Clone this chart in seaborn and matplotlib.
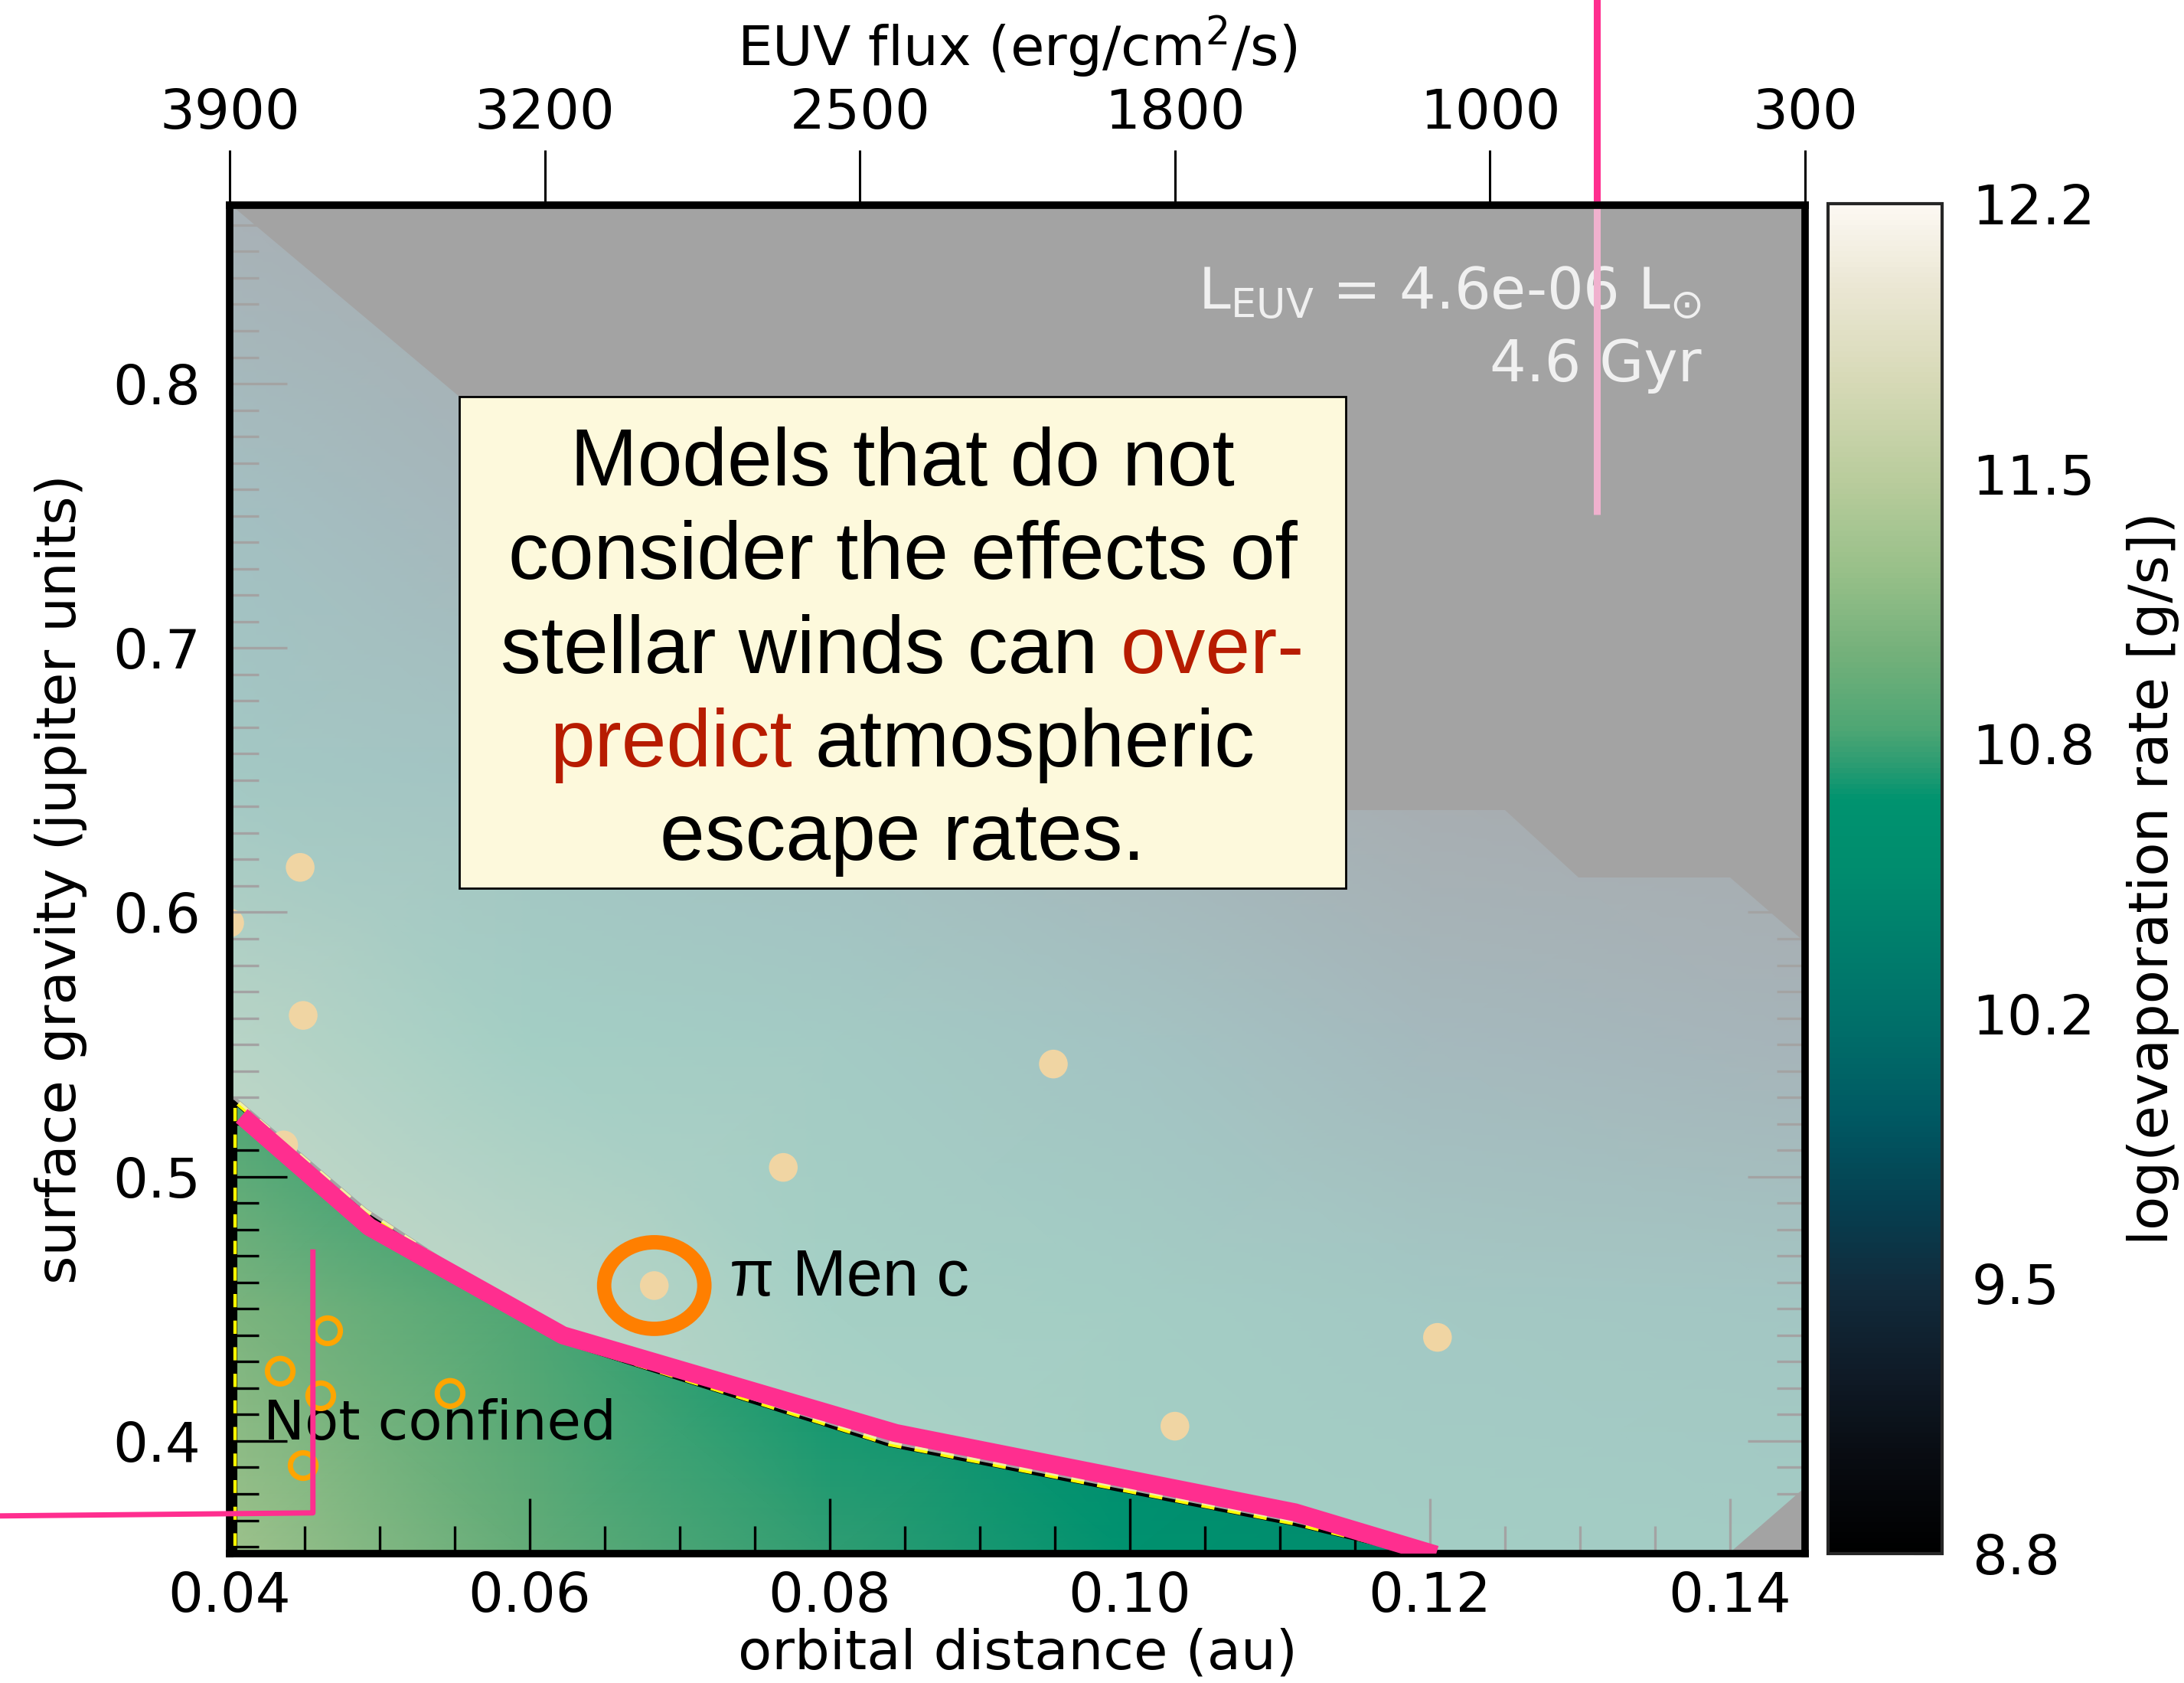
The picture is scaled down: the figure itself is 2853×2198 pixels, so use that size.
import numpy as np
import matplotlib
matplotlib.use("Agg")
import matplotlib.pyplot as plt
import seaborn as sns
from matplotlib.colors import LinearSegmentedColormap
from matplotlib.patches import Polygon, Rectangle, Ellipse
from matplotlib.ticker import MultipleLocator, FormatStrFormatter

# ---------------- data ----------------
# model grid: log10 evaporation rate [g/s]
grid_distance = [0.040, 0.060, 0.080, 0.100, 0.120, 0.145]
grid_gravity = [0.357, 0.450, 0.550, 0.650, 0.750, 0.868]
log_rate = [
    [11.32, 10.98, 10.80, 10.68, 10.55, 10.45],
    [11.12, 10.88, 10.70, 10.50, 10.30, 10.20],
    [10.85, 10.60, 10.40, 10.10, 9.75, 9.60],
    [10.30, 10.10, 9.90, 9.60, 9.30, 9.20],
    [9.95, 9.65, 9.45, 9.25, 9.10, 9.00],
    [9.50, 9.25, 9.05, 8.95, 8.90, 8.85],
]

# outline of the region covered by the model runs
domain_distance = [0.030, 0.1364, 0.1460, 0.1460, 0.1400, 0.1299, 0.1250,
                   0.1144, 0.0553, 0.0375, 0.030]
domain_gravity = [0.340, 0.340, 0.3874, 0.5836, 0.6132, 0.6132, 0.6388,
                  0.6388, 0.7950, 0.880, 0.880]

# wind-confinement boundary (below: not confined)
boundary_distance = [0.0403, 0.0403, 0.0490, 0.0622, 0.0840, 0.1110, 0.1195]
boundary_gravity = [0.350, 0.529, 0.487, 0.438, 0.399, 0.369, 0.3574]

# hand-traced highlight of the boundary
highlight_distance = [0.0408, 0.0493, 0.0622, 0.0844, 0.1110, 0.1204]
highlight_gravity = [0.523, 0.481, 0.440, 0.403, 0.373, 0.357]

# pointer strokes
pointer_top_distance = [0.1311, 0.1311]
pointer_top_gravity = [0.9455, 0.7504]
pointer_low_distance = [0.0200, 0.04555, 0.04555]
pointer_low_gravity = [0.3714, 0.3728, 0.4725]

# planets
confined_distance = [0.0400, 0.0447, 0.0449, 0.0436, 0.0683, 0.0769, 0.0949, 0.1030, 0.1205]
confined_gravity = [0.596, 0.617, 0.561, 0.512, 0.4588, 0.5035, 0.5426, 0.4056, 0.4392]
unconfined_distance = [0.04653, 0.04337, 0.04607, 0.05469, 0.04490]
unconfined_gravity = [0.4417, 0.4264, 0.4171, 0.4180, 0.3907]
pimen_distance, pimen_gravity = 0.0683, 0.4588

# top axis (EUV flux at the tick positions)
euv_flux_labels = ["3900", "3200", "2500", "1800", "1000", "300"]

# colour scale
cbar_min, cbar_max = 8.8, 12.2
cmap_values = [8.80, 9.02, 9.24, 9.47, 9.67, 9.89, 10.12, 10.32, 10.52, 10.70,
               10.79, 10.88, 11.06, 11.28, 11.51, 11.77, 12.00, 12.20]
cmap_colors = ["#000000", "#080b10", "#0f1a26", "#112b3c", "#063f50", "#005862",
               "#006e69", "#007d6c", "#008c6e", "#00936f", "#2c9c72", "#4ea674",
               "#72b07a", "#98c089", "#b9cc9c", "#d8dab8", "#ebe7d4", "#fcf8f2"]

box_lines = [
    [("Models that do not", "black")],
    [("consider the effects of", "black")],
    [("stellar winds can", "black"), ("over-", "#b71c00")],
    [("predict", "#b71c00"), ("atmospheric", "black")],
    [("escape rates.", "black")],
]

# ---------------- style ----------------
sns.set_style("white")
plt.rcParams["font.family"] = ["DejaVu Sans"]
plt.rcParams["mathtext.default"] = "regular"
for key in ("text.color", "axes.labelcolor", "xtick.color", "ytick.color"):
    plt.rcParams[key] = "black"

W, H = 2853, 2198
fig = plt.figure(figsize=(W / 100, H / 100), dpi=100)
fig.patch.set_facecolor("white")


def frac(x0, y0, x1, y1):
    return [x0 / W, 1 - y1 / H, (x1 - x0) / W, (y1 - y0) / H]


ax = fig.add_axes(frac(300, 268, 2358, 2029))
cax = fig.add_axes(frac(2388, 266, 2537, 2029))

xlim = (0.040, 0.145)
ylim = (0.3574, 0.8675)
ax.set_facecolor("black")
ax.set_axisbelow(False)

pink = "#ff2e8f"
fs = 52

# ---------------- field ----------------
pos = [(v - cbar_min) / (cbar_max - cbar_min) for v in cmap_values]
cmap = LinearSegmentedColormap.from_list("evap", list(zip(pos, cmap_colors)))
A, G = np.meshgrid(grid_distance, grid_gravity)
mesh = ax.pcolormesh(A, G, np.array(log_rate), shading="gouraud", cmap=cmap,
                     vmin=cbar_min, vmax=cbar_max, zorder=1)
domain = Polygon(np.column_stack([domain_distance, domain_gravity]), closed=True,
                 transform=ax.transData)
mesh.set_clip_path(domain)

# boundary contour
ax.plot(boundary_distance, boundary_gravity, color="black", lw=6, zorder=2)
ax.plot(boundary_distance, boundary_gravity, color="#ffff00", lw=5,
        dashes=(2.5, 2.5), zorder=2.05)

# planets
sns.scatterplot(x=confined_distance, y=confined_gravity, s=730, color="#ffa500",
                edgecolor="none", linewidth=0, ax=ax, zorder=2.2, legend=False)

# stellar parameters
ax.text(0.1381, 0.8281, r"L$_{\mathrm{EUV}}$ = 4.6e-06 L$_{\odot}$", color="white",
        fontsize=54, ha="right", va="baseline", zorder=2.15)
ax.text(0.1381, 0.8009, "4.6 Gyr", color="white", fontsize=54, ha="right",
        va="baseline", zorder=2.15)

ax.plot(pointer_top_distance, pointer_top_gravity, color=pink, lw=6.5,
        solid_capstyle="butt", clip_on=False, zorder=2.3)

# confined region wash
ov_a = np.r_[0.030, boundary_distance[1:], 0.150]
ov_g = np.r_[boundary_gravity[1], boundary_gravity[1:], 0.300]
ax.fill_between(ov_a, ov_g, 0.95, color="#eaeaea", alpha=0.7, lw=0, zorder=3)

# not-confined planets
ax.scatter(unconfined_distance, unconfined_gravity, s=24 ** 2, facecolors="none",
           edgecolors="#ffa500", linewidths=5, zorder=4)
ax.text(0.04224, 0.4006, "Not confined", fontsize=fs, color="black",
        ha="left", va="baseline", zorder=3.5)

# highlighted boundary and pointers
sns.lineplot(x=highlight_distance, y=highlight_gravity, sort=False, estimator=None,
             color=pink, lw=17, ax=ax, zorder=6, solid_capstyle="butt")
ax.plot(pointer_low_distance, pointer_low_gravity, color=pink, lw=5,
        solid_capstyle="butt", clip_on=False, zorder=6)

# pi Men c
ax.add_patch(Ellipse((pimen_distance, pimen_gravity), width=0.00668, height=0.03275,
                     fill=False, ec="#ff7f00", lw=13.5, zorder=7))
ax.text(0.0733, 0.4551, "π Men c", fontsize=61, family="Liberation Sans",
        color="black", ha="left", va="baseline", zorder=7)

# ---------------- axes ----------------
ax.set_xlim(*xlim)
ax.set_ylim(*ylim)
ax.xaxis.set_major_locator(MultipleLocator(0.02))
ax.xaxis.set_minor_locator(MultipleLocator(0.005))
ax.yaxis.set_major_locator(MultipleLocator(0.1))
ax.yaxis.set_minor_locator(MultipleLocator(0.01))
ax.xaxis.set_major_formatter(FormatStrFormatter("%.2f"))
ax.yaxis.set_major_formatter(FormatStrFormatter("%.1f"))
ax.tick_params(axis="x", which="major", direction="in", length=52, width=2.4,
               labelsize=fs, pad=16, top=False, bottom=True, color="black")
ax.tick_params(axis="x", which="minor", direction="in", length=26, width=2.4,
               top=False, bottom=True, color="black")
ax.tick_params(axis="y", which="major", direction="in", length=54, width=2.4,
               labelsize=fs, pad=27, left=True, right=True, color="black")
ax.tick_params(axis="y", which="minor", direction="in", length=27, width=2.4,
               left=True, right=True, color="black")
for s in ax.spines.values():
    s.set_linewidth(7)
    s.set_color("black")
    s.set_zorder(5)
ax.set_xlabel("orbital distance (au)", fontsize=fs, labelpad=4)
ax.set_ylabel("surface gravity (jupiter units)", fontsize=fs, labelpad=24)

sec = ax.secondary_xaxis("top")
sec.set_xticks(np.linspace(xlim[0], xlim[1], len(euv_flux_labels)), labels=euv_flux_labels)
sec.tick_params(axis="x", direction="out", length=52, width=2.2, labelsize=fs,
                pad=9, color="black")
sec.xaxis.set_minor_locator(matplotlib.ticker.NullLocator())
sec.spines["top"].set_linewidth(7)
sec.set_xlabel("EUV flux (erg/cm$^{2}$/s)", fontsize=fs, labelpad=20)

# ---------------- colorbar ----------------
cbar_ticks = np.linspace(cbar_min, cbar_max, 6)
cb = fig.colorbar(mesh, cax=cax, ticks=cbar_ticks)
cb.ax.yaxis.set_major_formatter(FormatStrFormatter("%.1f"))
cb.ax.tick_params(direction="in", length=27, width=2.2, labelsize=fs, pad=28,
                  color="black")
cb.ax.minorticks_off()
cb.outline.set_linewidth(3)
cb.set_label("log(evaporation rate [g/s])", fontsize=fs, labelpad=30)

# ---------------- message box ----------------
box_x0, box_x1 = (600 - 300) / 2058, (1758 - 300) / 2058
box_y0, box_y1 = (2029 - 1160) / 1761, (2029 - 518) / 1761
ax.add_patch(Rectangle((box_x0, box_y0), box_x1 - box_x0, box_y1 - box_y0,
                       transform=ax.transAxes, fc="#fdf9dc", ec="black", lw=2,
                       zorder=10, clip_on=False))
box_fs = 76
line0 = (2029 - 633.7) / 1761
step = 122.4 / 1761
cx = (box_x0 + box_x1) / 2
renderer = fig.canvas.get_renderer()
ax_w = ax.get_window_extent(renderer).width
gap = 0.278 * box_fs * fig.dpi / 72 / ax_w
for i, parts in enumerate(box_lines):
    y = line0 - i * step
    texts = [ax.text(0, y, s, color=c, transform=ax.transAxes, fontsize=box_fs,
                     family="Liberation Sans", ha="left", va="baseline", zorder=11)
             for s, c in parts]
    widths = [t.get_window_extent(renderer).width / ax_w for t in texts]
    x = cx - (sum(widths) + gap * (len(texts) - 1)) / 2
    for t, w in zip(texts, widths):
        t.set_x(x)
        x += w + gap

fig.savefig("out.png", dpi=100)
